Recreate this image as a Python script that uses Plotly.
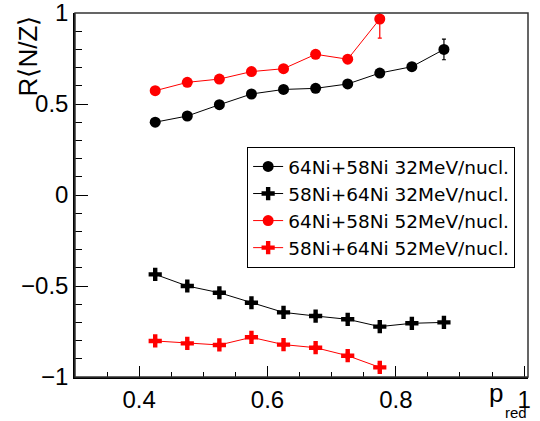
import plotly.graph_objects as go

p_red = [0.425, 0.475, 0.525, 0.575, 0.625, 0.675, 0.725, 0.775, 0.825, 0.875]

ni64_ni58_32 = [0.400, 0.434, 0.496, 0.555, 0.580, 0.586, 0.610, 0.670, 0.705, 0.800]
ni64_ni58_32_err = [0.010, 0.010, 0.010, 0.010, 0.010, 0.010, 0.012, 0.015, 0.020, 0.057]

ni58_ni64_32 = [-0.436, -0.500, -0.537, -0.592, -0.645, -0.665, -0.683, -0.723, -0.705, -0.700]
ni58_ni64_32_err = [0.010, 0.010, 0.010, 0.010, 0.010, 0.010, 0.010, 0.012, 0.012, 0.015]

p_red_52 = [0.425, 0.475, 0.525, 0.575, 0.625, 0.675, 0.725, 0.775]
ni64_ni58_52 = [0.573, 0.619, 0.637, 0.678, 0.694, 0.773, 0.746, 0.967]
ni64_ni58_52_err = [0.010, 0.010, 0.010, 0.010, 0.012, 0.015, 0.020, 0.105]

ni58_ni64_52 = [-0.802, -0.815, -0.824, -0.782, -0.822, -0.839, -0.883, -0.947]
ni58_ni64_52_err = [0.010, 0.010, 0.010, 0.010, 0.010, 0.012, 0.015, 0.020]

names = ["64Ni+58Ni 32MeV/nucl.", "58Ni+64Ni 32MeV/nucl.",
         "64Ni+58Ni 52MeV/nucl.", "58Ni+64Ni 52MeV/nucl."]

x_tickvals = [0.4, 0.6, 0.8, 1.0]
x_ticktext = ["0.4", "0.6", "0.8", "1"]
y_tickvals = [-1, -0.5, 0, 0.5, 1]
y_ticktext = ["\u22121", "\u22120.5", "0", "0.5", "1"]

FONT = "Liberation Sans, Arial, sans-serif"
LEGEND_FONT = "DejaVu Sans, Liberation Sans, sans-serif"

fig = go.Figure()

series = [
    (p_red, ni64_ni58_32, ni64_ni58_32_err, names[0], "black", "circle", 11),
    (p_red, ni58_ni64_32, ni58_ni64_32_err, names[1], "black", "cross", 11),
    (p_red_52, ni64_ni58_52, ni64_ni58_52_err, names[2], "red", "circle", 11),
    (p_red_52, ni58_ni64_52, ni58_ni64_52_err, names[3], "red", "cross", 11),
]
for x, y, e, n, c, s, sz in series:
    fig.add_trace(go.Scatter(
        x=x, y=y, name=n, mode="lines+markers",
        line=dict(color=c, width=1),
        marker=dict(color=c, symbol=s, size=sz, line=dict(width=0)),
        error_y=dict(type="data", array=e, color=c, thickness=1.2, width=2),
        cliponaxis=True,
    ))

fig.update_layout(
    template="none",
    width=540, height=421,
    margin=dict(l=75, r=12, t=13, b=44, autoexpand=False),
    paper_bgcolor="white", plot_bgcolor="white",
    font=dict(family=FONT, color="black", size=24),
    showlegend=True,
    legend=dict(
        x=0.38, y=0.632, xanchor="left", yanchor="top",
        bgcolor="white", bordercolor="black", borderwidth=1,
        font=dict(family=LEGEND_FONT, size=18.5, color="black"),
        tracegroupgap=0, itemwidth=30,
    ),
)

fig.update_xaxes(
    range=[0.3, 1.006], showgrid=False, zeroline=False, automargin=False,
    showline=True, linecolor="black", linewidth=1.5, mirror=False,
    ticks="inside", ticklen=11, tickwidth=1, tickcolor="black",
    tickmode="array", tickvals=x_tickvals, ticktext=x_ticktext,
    ticklabeloverflow="allow",
    minor=dict(ticks="inside", ticklen=5, tickwidth=1, tickcolor="black", dtick=0.05, tick0=0.3, showgrid=False),
    tickfont=dict(family=FONT, size=24),
)
fig.update_yaxes(
    range=[-1, 1], showgrid=False, zeroline=False, automargin=False,
    showline=True, linecolor="black", linewidth=1.5, mirror=False,
    ticks="inside", ticklen=13, tickwidth=1, tickcolor="black",
    tickmode="array", tickvals=y_tickvals, ticktext=y_ticktext,
    ticklabeloverflow="allow",
    minor=dict(ticks="inside", ticklen=7, tickwidth=1, tickcolor="black", dtick=0.1, tick0=-1, showgrid=False),
    tickfont=dict(family=FONT, size=24),
)

# plot frame (top and right edges)
fig.add_shape(type="rect", xref="paper", yref="paper", x0=0, y0=0, x1=1, y1=1,
              line=dict(color="#333333", width=1.5), layer="above")

fig.add_annotation(
    text="R\u27e8N/Z\u27e9", textangle=-90,
    xref="paper", yref="paper", x=-0.104, y=1.0,
    xanchor="center", yanchor="top", showarrow=False,
    font=dict(family=FONT, size=26, color="black"),
)
fig.add_annotation(
    text="p",
    xref="paper", yref="paper", x=0.9095, y=-0.045,
    xanchor="left", yanchor="middle", showarrow=False,
    font=dict(family=FONT, size=26, color="black"),
)
fig.add_annotation(
    text="red",
    xref="paper", yref="paper", x=0.9448, y=-0.0978,
    xanchor="left", yanchor="middle", showarrow=False,
    font=dict(family=FONT, size=15, color="black"),
)

fig.write_html("out.html", config={"displayModeBar": False},
               post_script="document.body.style.margin='0';")
